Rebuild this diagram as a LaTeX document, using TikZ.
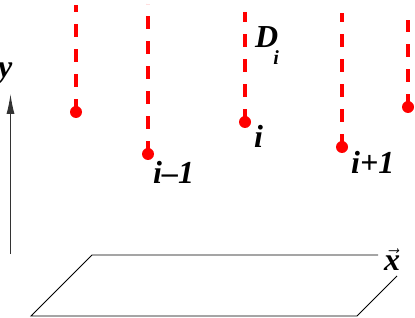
\documentclass[tikz,border=0pt]{standalone}
\usepackage{fontspec}
\setmainfont{Liberation Serif}
\usetikzlibrary{arrows.meta}
\begin{document}
\begin{tikzpicture}[x=1pt,y=-1pt,
  redline/.style={draw=red,line width=3.5pt,dash pattern=on 12.5pt off 12.5pt},
  reddot/.style={circle,fill=red,inner sep=0pt,minimum size=12pt},
  lbl/.style={anchor=base west,inner sep=0pt,font=\fontsize{32}{32}\selectfont\bfseries\itshape},
  edge/.style={draw=black,line width=0.9pt},
  axis/.style={draw=black!80,line width=1.1pt,-{Latex[length=20pt,width=8pt]}}]
\useasboundingbox (0,0) rectangle (415,318);
% red point lines
\node[reddot] (p1) at (76,112) {};
\node[reddot] (p2) at (148,154) {};
\node[reddot] (p3) at (245,122) {};
\node[reddot] (p4) at (342,147) {};
\node[reddot] (p5) at (408,107) {};
\coordinate (t1) at (76,5);
\coordinate (t2) at (148,4);
\coordinate (t3) at (245,12);
\coordinate (t4) at (342,13);
\coordinate (t5) at (408,20);
\foreach \k in {1,...,5}{\draw[redline] (p\k.center) -- (t\k);}
% labels
\node[lbl] (lm) at (153,183) {i–1};
\node[lbl] (li) at (254,147) {i};
\node[lbl] (lp) at (351,173) {i+1};
\node[lbl] (ld) at (255,48) {D\hspace{-5pt}\raisebox{-17pt}{\fontsize{20}{20}\selectfont i}};
% y axis
\coordinate (ya) at (10.5,254);
\coordinate (yb) at (10.5,94);
\draw[axis] (ya) -- (yb);
\node[lbl] (ly) at (-2,78) {y};
% plane
\coordinate (A) at (92,255);
\coordinate (B) at (378,255);
\coordinate (C) at (397,276);
\coordinate (D) at (357,316);
\coordinate (E) at (31,316);
\draw[edge] (B) -- (A) -- (E) -- (D) -- (C);
\node[lbl] (lx) at (384,270) {$\vec{\mbox{x}}$};
\end{tikzpicture}
\end{document}
